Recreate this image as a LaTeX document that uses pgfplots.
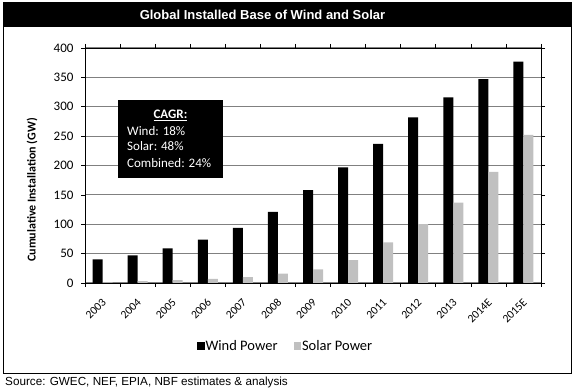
\documentclass[border=0pt]{standalone}
\usepackage{pgfplots}
\pgfplotsset{compat=1.18}
\usepackage{fontspec}
\setmainfont{Carlito}
\newfontfamily\arialfont{Liberation Sans}
\definecolor{solargray}{RGB}{192,192,192}
\definecolor{gridgray}{RGB}{128,128,128}
\begin{document}
\begin{tikzpicture}[x=1pt,y=1pt]
\path[use as bounding box] (0,0) rectangle (575,390);
% outer frame and title band
\fill[black] (3.5,387) rectangle (571.5,363);
\draw[black,line width=1pt] (3.5,387) rectangle (571.5,16);
\node[text=white,font=\arialfont\bfseries\fontsize{13}{15}\selectfont] at (262.5,375) {Global Installed Base of Wind and Solar};
\node[anchor=west,font=\arialfont\fontsize{11.7}{13}\selectfont,inner sep=0pt] at (5,8) {Source: GWEC, NEF, EPIA, NBF estimates \& analysis};
\begin{axis}[
  at={(85pt,107pt)}, anchor=south west,
  scale only axis, width=456pt, height=235pt,
  xmin=0.5, xmax=13.5, ymin=0, ymax=400,
  ytick={0,50,...,400},
  xtick={1,...,13},
  xticklabels={2003,2004,2005,2006,2007,2008,2009,2010,2011,2012,2013,2014E,2015E},
  minor xtick={0.5,1.5,...,13.5},
  tick align=outside,
  major x tick style={draw=none},
  minor tick length=4pt,
  major tick length=4pt,
  tick style={black,line width=0.6pt},
  ymajorgrids,
  grid style={gridgray,line width=1pt},
  axis line style={black,line width=0.8pt},
  /pgf/number format/assume math mode=true,
  y tick label style={font=\fontsize{13}{15}\selectfont, xshift=-4pt},
  x tick label style={font=\fontsize{11.5}{13}\selectfont, anchor=east, xshift=4pt, yshift=-11pt, rotate=45},
  ylabel={\bfseries Cumulative Installation (GW)},
  ylabel style={font=\fontsize{12}{14}\selectfont, at={(axis description cs:-0.116,0.396)}, anchor=center},
  ybar=0pt, bar width=10pt,
  legend style={at={(axis description cs:0.44,-0.268)}, anchor=center, draw=none, fill=none,
    legend columns=2, font=\fontsize{14.5}{16}\selectfont,
    /tikz/every even column/.append style={column sep=14pt},
    /tikz/every odd column/.append style={column sep=-1pt}},
  legend image code/.code={\fill[#1,draw=none] (0pt,-3.8pt) rectangle (7.5pt,3.7pt);},
]
\addplot[fill=black,draw=none] coordinates {(1,40) (2,47) (3,59) (4,74) (5,94) (6,121) (7,158) (8,197) (9,237) (10,282) (11,316) (12,347) (13,377)};
\addplot[fill=solargray,draw=none] coordinates {(1,1) (2,3) (3,5) (4,7) (5,10) (6,16) (7,23) (8,39) (9,69) (10,100) (11,137) (12,189) (13,252)};
\legend{Wind Power,Solar Power}
\end{axis}
% CAGR box
\fill[black] (118,290) rectangle (223,212);
\node[text=white,font=\bfseries\fontsize{13}{15}\selectfont] at (170.5,275) {\underline{CAGR:}};
\node[text=white,anchor=west,font=\fontsize{13}{15}\selectfont,inner sep=0pt] at (127,259) {Wind: 18\%};
\node[text=white,anchor=west,font=\fontsize{13}{15}\selectfont,inner sep=0pt] at (127,244) {Solar: 48\%};
\node[text=white,anchor=west,font=\fontsize{13}{15}\selectfont,inner sep=0pt] at (127,227) {Combined: 24\%};
\end{tikzpicture}
\end{document}
